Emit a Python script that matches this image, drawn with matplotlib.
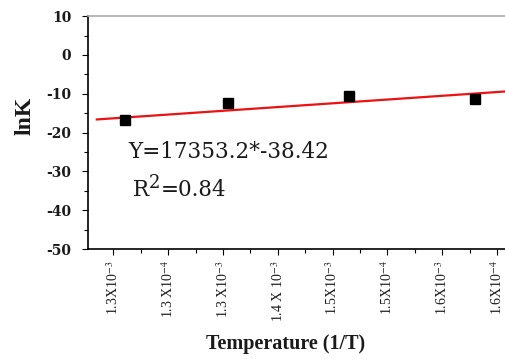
import matplotlib
matplotlib.use("Agg")
import matplotlib.pyplot as plt
import numpy as np

# ---------------------------------------------------------------------------
# Data
# ---------------------------------------------------------------------------
TICK_LABELS = [
    r"1.3X10$^{-3}$",
    r"1.3 X10$^{-4}$",
    r"1.3 X10$^{-3}$",
    r"1.4 X 10$^{-3}$",
    r"1.5X10$^{-3}$",
    r"1.5X10$^{-4}$",
    r"1.6X10$^{-3}$",
    r"1.6X10$^{-4}$",
]
POINT_X = [0.22, 2.09, 4.30, 6.60]
POINT_LNK = [-16.8, -12.4, -10.6, -11.4]

# fitted trend line (end points on the tick-position scale)
FIT_X = [-0.30, 7.25]
FIT_Y = [-16.6, -9.3]

EQUATION = "Y=17353.2*-38.42"
R2_VALUE = "=0.84"

TEXT_COLOR = "#1a1a1a"
WIDE_SERIF = ["DejaVu Serif"]

plt.rcParams["font.family"] = ["Liberation Serif", "DejaVu Serif"]
plt.rcParams["mathtext.fontset"] = "stix"
plt.rcParams["axes.unicode_minus"] = False

fig = plt.figure(figsize=(5.06, 3.59), dpi=100)
ax = fig.add_axes([0.174, 0.306, 0.83, 0.649])

ax.plot(FIT_X, FIT_Y, color="#ee1111", linewidth=1.6, zorder=2)
ax.plot(POINT_X, POINT_LNK, linestyle="none", marker="s", markersize=6.5,
        markerfacecolor="black", markeredgecolor="black", zorder=3)

ax.set_xlim(-0.46, 7.2)
ax.set_ylim(-50, 10)

ax.set_xticks(range(len(TICK_LABELS)))
ax.set_xticklabels(TICK_LABELS, rotation=90, fontsize=10, color=TEXT_COLOR)
ax.set_xticks(np.arange(0.5, len(TICK_LABELS) - 1, 1.0), minor=True)
ax.set_yticks(np.arange(-50, 11, 10))
ax.set_yticks(np.arange(-45, 10, 10), minor=True)
for lab in ax.get_yticklabels():
    lab.set_family(WIDE_SERIF)
    lab.set_fontweight("bold")
    lab.set_fontsize(10)
    lab.set_color(TEXT_COLOR)

ax.tick_params(axis="both", which="major", length=4, width=0.8, direction="out", pad=4)
ax.tick_params(axis="both", which="minor", length=3, width=0.8, direction="out")
ax.tick_params(axis="y", pad=8)

ax.spines["right"].set_visible(False)
ax.spines["top"].set_color("#aaaaaa")
ax.spines["top"].set_linewidth(1.2)
ax.spines["left"].set_linewidth(1.2)
ax.spines["bottom"].set_linewidth(1.2)

ax.set_ylabel("lnK", fontsize=17, fontweight="bold", color=TEXT_COLOR)
ax.yaxis.set_label_coords(-0.125, 0.57)
ax.set_xlabel("Temperature (1/T)", fontsize=14.5, fontweight="bold", color=TEXT_COLOR)
ax.xaxis.set_label_coords(0.47, -0.365)

# regression equation and R^2 (superscript drawn as a raised, near full-size "2")
ax.text(0.28, -26.4, EQUATION, fontsize=15.5, family=WIDE_SERIF,
        color=TEXT_COLOR, va="baseline", ha="left")
r_txt = ax.text(0.36, -36.2, "R", fontsize=15.5, family=WIDE_SERIF,
                color=TEXT_COLOR, va="baseline", ha="left")
two_txt = ax.annotate("2", xy=(1, 0), xycoords=r_txt, xytext=(0, 9),
                      textcoords="offset pixels", fontsize=13, family=WIDE_SERIF,
                      color=TEXT_COLOR, va="bottom", ha="left")
ax.annotate(R2_VALUE, xy=(1, 0), xycoords=(two_txt, r_txt), fontsize=15.5,
            family=WIDE_SERIF, color=TEXT_COLOR, va="bottom", ha="left")

fig.savefig("out.png", dpi=100)
